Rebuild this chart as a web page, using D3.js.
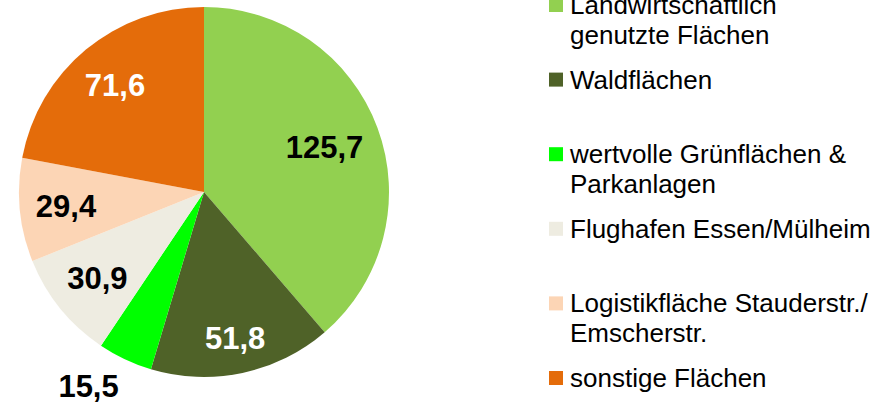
<!DOCTYPE html>
<html>
<head>
<meta charset="utf-8">
<script src="https://cdn.jsdelivr.net/npm/d3@7"></script>
<style>
  html, body { margin: 0; padding: 0; background: #fff; }
  svg { display: block; }
</style>
</head>
<body>
<figure id="landChart" style="margin:0"></figure>
<script>
// data
const categories = [
  ["Landwirtschaftlich", "genutzte Flächen"],
  ["Waldflächen"],
  ["wertvolle Grünflächen &", "Parkanlagen"],
  ["Flughafen Essen/Mülheim"],
  ["Logistikfläche Stauderstr./", "Emscherstr."],
  ["sonstige Flächen"]
];
const values = [125.7, 51.8, 15.5, 30.9, 29.4, 71.6];
const colors = ["#92D050", "#4F6228", "#00FF00", "#EEECE1", "#FCD5B5", "#E46C0A"];
const labelColors = ["#000", "#fff", "#000", "#000", "#000", "#fff"];

const fontFamily = "'Liberation Sans', Arial, sans-serif";

class PieChart {

  constructor() {
    this.width = 891;
    this.height = 402;
    this.cx = 204;
    this.cy = 192;
    this.radius = 185;
  }

  init() {
    const figure = d3.select("figure#landChart");
    this.svg = figure.append("svg")
      .attr("width", this.width)
      .attr("height", this.height)
      .attr("viewBox", `0 0 ${this.width} ${this.height}`);
  }

  update() {
    this.svg.selectAll("*").remove();
    this.drawPie();
    this.drawLegend();
  }

  drawPie() {
    const r = this.radius;
    const data = values.map((v, i) => ({ value: v, index: i }));
    const pie = d3.pie()
      .value((d) => d.value)
      .sort(null);
    const arcs = pie(data);
    const arc = d3.arc().innerRadius(0).outerRadius(r);

    const g = this.svg.append("g")
      .attr("transform", "translate(" + this.cx + "," + this.cy + ")");

    g.selectAll("path")
      .data(arcs).enter()
      .append("path")
      .attr("d", arc)
      .attr("fill", (d) => colors[d.data.index]);

    const labels = g.selectAll("text")
      .data(arcs).enter()
      .append("text")
      .attr("font-family", fontFamily)
      .attr("font-weight", "bold")
      .attr("font-size", 31)
      .attr("fill", (d) => labelColors[d.data.index])
      .text((d) => d3.format(".1f")(d.data.value).replace(".", ","));

    // place like excel "best fit": far edge of label box at 0.92r,
    // small slices get the label outside with its near corner at 1.08r
    const capH = 22, boxH = 30;
    labels.each(function (d) {
      const w = this.getComputedTextLength();
      const a = (d.startAngle + d.endAngle) / 2;
      const sx = Math.sin(a), sy = -Math.cos(a);
      const t = d3.select(this);
      if (d.endAngle - d.startAngle < 0.4) {
        const px = sx * r * 1.08, py = sy * r * 1.08;
        t.attr("text-anchor", sx < 0 ? "end" : "start")
          .attr("x", px)
          .attr("y", sy > 0 ? py + capH + 2 : py - 4);
      } else {
        const dist = r * 0.92 - (w / 2 * Math.abs(sx) + boxH / 2 * Math.abs(sy));
        t.attr("text-anchor", "middle")
          .attr("x", sx * dist)
          .attr("y", sy * dist + capH / 2);
      }
    });
  }

  drawLegend() {
    const y = d3.scalePoint()
      .domain(d3.range(categories.length))
      .range([14, 387]);
    const lineHeight = 29.5;

    const items = this.svg.append("g")
      .selectAll("g")
      .data(categories).enter()
      .append("g")
      .attr("transform", (d, i) => "translate(549," + y(i) + ")");

    items.append("rect")
      .attr("x", 0)
      .attr("y", -16)
      .attr("width", 14)
      .attr("height", 14)
      .attr("fill", (d, i) => colors[i]);

    items.append("text")
      .attr("font-family", fontFamily)
      .attr("font-size", 26)
      .attr("fill", "#000")
      .selectAll("tspan")
      .data((d) => d).enter()
      .append("tspan")
      .attr("x", 21)
      .attr("y", (d, j) => j * lineHeight)
      .text((d) => d);
  }
}

var pieChart = new PieChart();
pieChart.init();
pieChart.update();
</script>
</body>
</html>
